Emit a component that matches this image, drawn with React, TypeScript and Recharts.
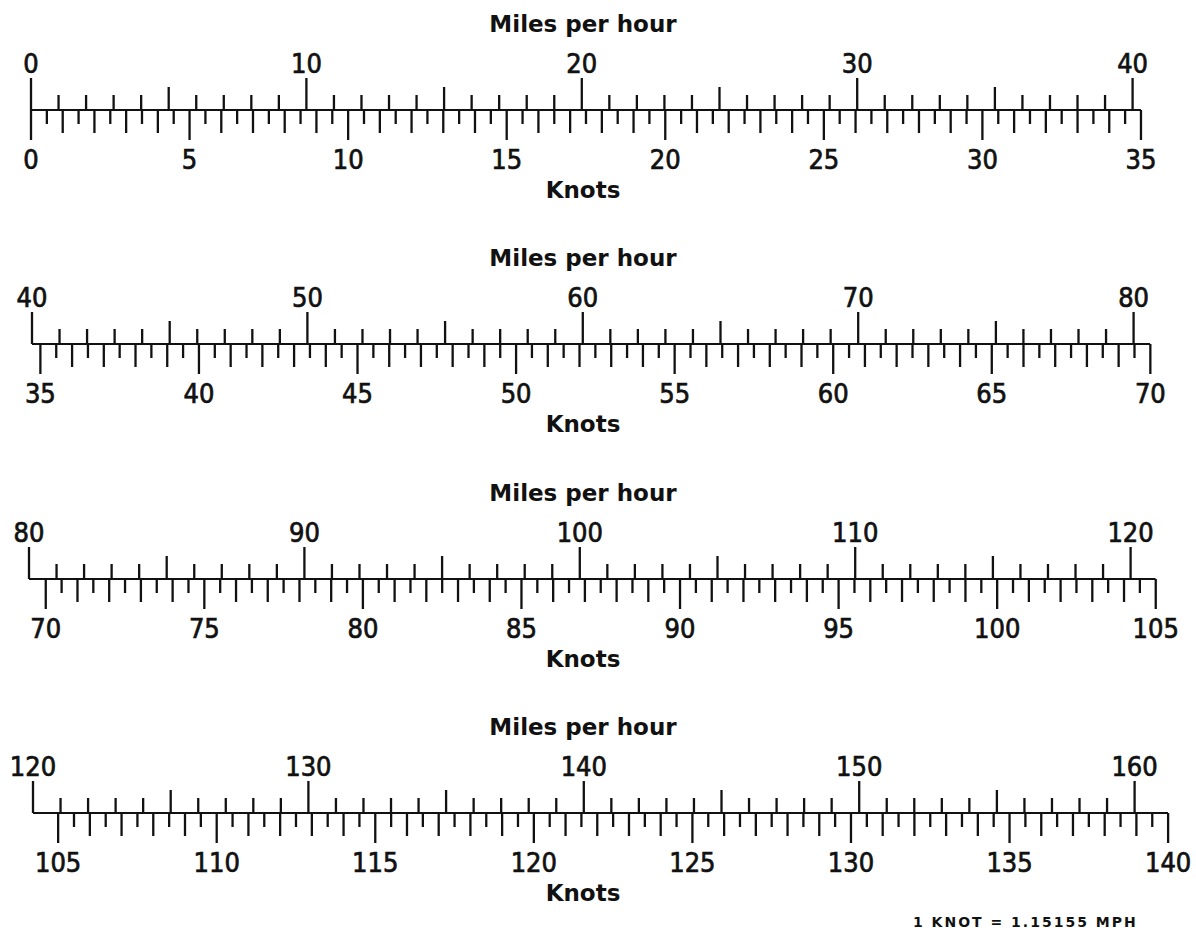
import { ComposedChart, Line, XAxis, YAxis } from "recharts";

// 1 knot = 1.15155 mph
const MPH_PER_KNOT = 1.15155;

// one row of the scale per entry
const MPH_START = [0, 40, 80, 120];
const MPH_END = [40, 80, 120, 160];
const KNOT_START = [0, 35, 70, 105];
const KNOT_END = [35, 70, 105, 140];

const MPH_TITLE = "Miles per hour";
const KNOT_TITLE = "Knots";
const FOOTNOTE = "1 KNOT = 1.15155 MPH";

// layout
const PX_PER_MPH = 27.54;
const ROW_LEFT = [31, 32, 29, 33];
const ROW_LINE_Y = [109.5, 344, 579, 813];
const TITLE_X = 583;
const M_LEFT = 30;
const M_RIGHT = 40;
const TOP_H = 60;
const BOTTOM_H = 70;
const PLOT_H = 2;

const INK = "#111";
const numFont = "'DejaVu Sans Condensed', 'DejaVu Sans', sans-serif";
const titleFont = "'DejaVu Sans', sans-serif";

function range(a: number, b: number, step: number) {
  const out: number[] = [];
  for (let v = a; v <= b + 1e-9; v += step) out.push(Math.round(v * 10) / 10);
  return out;
}

const numStyle = {
  fontFamily: numFont,
  fontSize: 27,
  fill: INK,
  stroke: INK,
  strokeWidth: 0.7,
};

function MphTick(props: any) {
  const { x, y, payload } = props;
  const v = payload.value;
  const len = v % 10 === 0 ? 32 : v % 5 === 0 ? 23 : 15;
  return (
    <g>
      <line x1={x} x2={x} y1={y + 1} y2={y + 1 - len} stroke={INK} strokeWidth={2.3} />
      {v % 10 === 0 && (
        <text x={x} y={y - 36} textAnchor="middle" {...numStyle}>
          {v}
        </text>
      )}
    </g>
  );
}

function KnotTick(props: any) {
  const { x, y, payload } = props;
  const v = payload.value;
  const len = v % 5 === 0 ? 30 : Number.isInteger(v) ? 23 : 14;
  return (
    <g>
      <line x1={x} x2={x} y1={y - 1} y2={y - 1 + len} stroke={INK} strokeWidth={2.3} />
      {v % 5 === 0 && (
        <text x={x} y={y + 58} textAnchor="middle" {...numStyle}>
          {v}
        </text>
      )}
    </g>
  );
}

function ScaleRow({ i }: { i: number }) {
  const lo = MPH_START[i];
  const hi = KNOT_END[i] * MPH_PER_KNOT;
  const plotW = (hi - lo) * PX_PER_MPH;
  const data = [
    { mph: lo, kn: lo / MPH_PER_KNOT, v: 0 },
    { mph: hi, kn: KNOT_END[i], v: 0 },
  ];
  const mphTicks = range(MPH_START[i], MPH_END[i], 1);
  const knotTicks = range(KNOT_START[i], KNOT_END[i], 0.5);
  return (
    <div
      style={{
        position: "absolute",
        left: ROW_LEFT[i] - M_LEFT,
        top: ROW_LINE_Y[i] - TOP_H - PLOT_H / 2,
      }}
    >
      <ComposedChart
        width={plotW + M_LEFT + M_RIGHT}
        height={TOP_H + PLOT_H + BOTTOM_H}
        data={data}
        margin={{ top: 0, right: M_RIGHT, bottom: 0, left: M_LEFT }}
      >
        <XAxis
          xAxisId="mph"
          dataKey="mph"
          type="number"
          orientation="top"
          domain={[lo, hi]}
          allowDataOverflow
          ticks={mphTicks}
          interval={0}
          tick={<MphTick />}
          tickLine={false}
          axisLine={false}
          tickSize={0}
          tickMargin={0}
          height={TOP_H}
        />
        <XAxis
          xAxisId="kn"
          dataKey="kn"
          type="number"
          orientation="bottom"
          domain={[lo / MPH_PER_KNOT, KNOT_END[i]]}
          allowDataOverflow
          ticks={knotTicks}
          interval={0}
          tick={<KnotTick />}
          tickLine={false}
          axisLine={false}
          tickSize={0}
          tickMargin={0}
          height={BOTTOM_H}
        />
        <YAxis hide domain={[-1, 1]} />
        <Line
          xAxisId="mph"
          dataKey="v"
          stroke={INK}
          strokeWidth={2.2}
          dot={false}
          isAnimationActive={false}
        />
      </ComposedChart>
    </div>
  );
}

export default function App() {
  return (
    <div style={{ position: "absolute", left: 0, top: 0, width: 1196, height: 933, background: "#fff" }}>
      {MPH_START.map((_, i) => (
        <ScaleRow key={i} i={i} />
      ))}
      <svg width={1196} height={933} style={{ position: "absolute", left: 0, top: 0, pointerEvents: "none" }}>
        {ROW_LINE_Y.map((y, i) => (
          <g key={i} fontFamily={titleFont} fontWeight="bold" fontSize={23} fill={INK} textAnchor="middle">
            <text x={TITLE_X} y={y - 78}>{MPH_TITLE}</text>
            <text x={TITLE_X} y={y + 88}>{KNOT_TITLE}</text>
          </g>
        ))}
        <text x={913} y={927} fontFamily={titleFont} fontWeight="bold" fontSize={14} letterSpacing={2} fill={INK}>
          {FOOTNOTE}
        </text>
      </svg>
    </div>
  );
}
